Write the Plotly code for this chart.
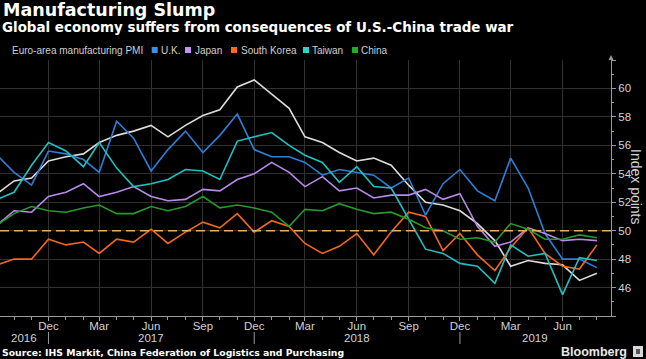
import plotly.graph_objects as go
import pandas as pd

# ---------------- data ----------------
months = pd.date_range("2016-09-01", periods=36, freq="MS")

euro = [52.6, 53.5, 53.7, 54.9, 55.2, 55.4, 56.2, 56.7, 57.0, 57.4, 56.6, 57.4,
        58.1, 58.5, 60.1, 60.6, 59.6, 58.6, 56.6, 56.2, 55.5, 54.9, 55.1, 54.6,
        53.2, 52.0, 51.8, 51.4, 50.5, 49.3, 47.5, 47.9, 47.7, 47.6, 46.5, 47.0]
uk = [55.3, 54.1, 53.2, 55.6, 55.4, 55.0, 54.1, 57.7, 56.5, 54.2, 55.7, 57.0,
      55.5, 56.7, 58.2, 55.7, 55.2, 55.2, 54.8, 53.9, 54.3, 54.1, 53.9, 53.0,
      53.7, 51.1, 53.3, 54.3, 52.8, 52.1, 55.1, 53.0, 49.8, 48.0, 48.0, 47.4]
japan = [50.4, 51.4, 51.3, 52.4, 52.7, 53.3, 52.4, 52.7, 53.1, 52.4, 52.1, 52.2,
         52.9, 52.8, 53.6, 54.0, 54.8, 54.1, 53.1, 53.8, 52.8, 53.0, 52.3, 52.5,
         52.5, 52.9, 52.2, 52.6, 50.3, 48.9, 49.2, 50.2, 49.8, 49.3, 49.4, 49.3]
south_korea = [47.6, 48.0, 48.0, 49.4, 49.0, 49.2, 48.4, 49.4, 49.2, 50.1, 49.1, 49.9,
               50.6, 50.2, 51.2, 49.9, 50.7, 50.3, 49.1, 48.4, 48.9, 49.8, 48.3, 49.9,
               51.3, 51.0, 48.6, 49.8, 48.3, 47.2, 48.8, 50.2, 48.4, 47.5, 47.3, 49.0]
taiwan = [52.2, 52.7, 54.6, 56.2, 55.6, 54.5, 56.2, 54.4, 53.1, 53.3, 53.6, 54.3,
          54.2, 53.6, 56.3, 56.6, 56.9, 56.0, 55.3, 54.8, 53.4, 54.5, 53.1, 53.0,
          50.8, 48.7, 48.4, 47.7, 47.5, 46.3, 49.0, 48.2, 48.4, 45.5, 48.1, 47.9]
china = [50.4, 51.2, 51.7, 51.4, 51.3, 51.6, 51.8, 51.2, 51.2, 51.7, 51.4, 51.7,
         52.4, 51.6, 51.8, 51.6, 51.3, 50.3, 51.5, 51.4, 51.9, 51.5, 51.2, 51.3,
         50.8, 50.2, 50.0, 49.4, 49.5, 49.2, 50.5, 50.1, 49.4, 49.4, 49.7, 49.5]

series_names = ["Euro-area manufacturing PMI", "U.K.", "Japan", "South Korea", "Taiwan", "China"]
series_values = [euro, uk, japan, south_korea, taiwan, china]
threshold = 50

y_tickvals = [44, 46, 48, 50, 52, 54, 56, 58, 60, 62]
y_ticktext = ["", "46", "48", "50", "52", "54", "56", "58", "60", ""]
x_tickvals = pd.date_range("2016-12-01", "2019-06-01", freq="3MS")
year_labels = ["2016", "2017", "2018", "2019"]
year_bounds = ["2016-09-06", "2016-12-01", "2017-12-01", "2018-12-01", "2019-08-26"]

title = "Manufacturing Slump"
subtitle = "Global economy suffers from consequences of U.S.-China trade war"
source = "Source: IHS Markit, China Federation of Logistics and Purchasing"

# ---------------- style ----------------
colors = ["#dcdcdc", "#2c7fd8", "#b88ae8", "#f2661e", "#20c0c0", "#249a2c"]
legend_colors = ["#ffffff", "#3a8ee8", "#c594f2", "#ff6a1c", "#2fd0d0", "#22aa22"]
W, H = 646, 359
L, R, T, B = 0, 35, 60, 43
PW, PH = W - L - R, H - T - B


def px(x):
    return (x - L) / PW


def py(y):
    return (H - B - y) / PH


fig = go.Figure()
for name, vals, col in zip(series_names, series_values, colors):
    fig.add_trace(go.Scatter(x=months, y=vals, mode="lines", name=name,
                             line=dict(color=col, width=1.6), showlegend=False))

fig.add_hline(y=threshold, line=dict(color="#e6b066", width=1.5, dash="9px,5px"), layer="above")

axis_col = "#9a9a9a"
grid_col = "#303030"
tick_font = dict(family="Liberation Sans", size=11.5, color="#d2d2d2")

fig.update_xaxes(
    range=[year_bounds[0], year_bounds[-1]],
    tickmode="array", tickvals=x_tickvals, tickformat="%b",
    ticks="outside", ticklen=4, tickcolor=axis_col,
    ticklabelstandoff=-5,
    showgrid=True, gridcolor=grid_col, gridwidth=1,
    showline=True, linecolor=axis_col, linewidth=1,
    zeroline=False, tickfont=tick_font,
    minor=dict(tickmode="array", tickvals=months, ticks="outside", ticklen=3,
               tickcolor=axis_col, showgrid=False),
)
fig.update_yaxes(
    side="right", range=[44, 62],
    tickmode="array", tickvals=y_tickvals, ticktext=y_ticktext,
    ticks="outside", ticklen=4, tickcolor=axis_col,
    showgrid=True, gridcolor=grid_col, gridwidth=1,
    showline=True, linecolor=axis_col, linewidth=1,
    zeroline=False, tickfont=tick_font,
    minor=dict(tickmode="array", tickvals=[45, 47, 49, 51, 53, 55, 57, 59, 61],
               ticks="outside", ticklen=2, tickcolor=axis_col, showgrid=False),
)

annotations = []
shapes = []

# titles
annotations.append(dict(text="<b>" + title + "</b>", x=px(1), y=py(9.5), xref="paper", yref="paper",
                        xanchor="left", yanchor="middle", showarrow=False,
                        font=dict(family="DejaVu Sans", size=17.5, color="#ffffff")))
annotations.append(dict(text="<b>" + subtitle + "</b>", x=px(0), y=py(27), xref="paper", yref="paper",
                        xanchor="left", yanchor="middle", showarrow=False,
                        font=dict(family="DejaVu Sans", size=13.45, color="#ffffff")))

# legend
legend_box_x = [2.7, 151.7, 185, 231, 303, 352]
for name, col, bx in zip(series_names, legend_colors, legend_box_x):
    shapes.append(dict(type="rect", xref="paper", yref="paper",
                       x0=px(bx), x1=px(bx + 6), y0=py(53), y1=py(47),
                       fillcolor=col, line=dict(width=0)))
    annotations.append(dict(text=name, x=px(bx + 7.5), y=py(50), xref="paper", yref="paper",
                            xanchor="left", yanchor="middle", showarrow=False,
                            font=dict(family="Liberation Sans", size=10, color="#cfcfcf")))

# year labels and separators
for i, yr in enumerate(year_labels):
    a = pd.Timestamp(year_bounds[i])
    b = pd.Timestamp(year_bounds[i + 1])
    mid = a + (b - a) / 2
    annotations.append(dict(text=yr, x=mid, y=py(338), xref="x", yref="paper",
                            xanchor="center", yanchor="middle", showarrow=False,
                            font=tick_font))
for sep in year_bounds[1:-1]:
    shapes.append(dict(type="line", xref="x", yref="paper", x0=sep, x1=sep,
                       y0=py(332), y1=py(344), line=dict(color=axis_col, width=1)))

# y axis title
annotations.append(dict(text="Index points", x=px(636), y=py(187), xref="paper", yref="paper",
                        xanchor="center", yanchor="middle", showarrow=False, textangle=90,
                        font=dict(family="Liberation Sans", size=14, color="#d2d2d2")))

# arrow tip at top of y axis
shapes.append(dict(type="path", xref="paper", yref="paper",
                   path=f"M {px(608.5)} {py(60)} L {px(613.5)} {py(60)} L {px(611)} {py(55)} Z",
                   fillcolor=axis_col, line=dict(width=0)))

# source and branding
annotations.append(dict(text="<b>" + source + "</b>", x=px(0), y=py(352.5), xref="paper", yref="paper",
                        xanchor="left", yanchor="middle", showarrow=False,
                        font=dict(family="DejaVu Sans", size=9.3, color="#ffffff")))
annotations.append(dict(text="<b>Bloomberg</b>", x=px(629), y=py(351.5), xref="paper", yref="paper",
                        xanchor="right", yanchor="middle", showarrow=False,
                        font=dict(family="Liberation Sans", size=12.5, color="#e8e8e8")))
shapes.append(dict(type="rect", xref="paper", yref="paper",
                   x0=px(633), x1=px(643), y0=py(357), y1=py(346),
                   fillcolor="#d8d8d8", line=dict(width=0)))
shapes.append(dict(type="rect", xref="paper", yref="paper",
                   x0=px(636), x1=px(640), y0=py(354), y1=py(349),
                   fillcolor="#555555", line=dict(width=0)))

fig.update_layout(
    width=W, height=H,
    margin=dict(l=L, r=R, t=T, b=B, autoexpand=False),
    paper_bgcolor="#000000", plot_bgcolor="#000000",
    showlegend=False,
    annotations=annotations, shapes=shapes,
    font=dict(family="Liberation Sans", color="#d2d2d2"),
)

fig.write_html("out.html", config={"displayModeBar": False},
               post_script="document.body.style.margin='0';document.body.style.background='#000';")
